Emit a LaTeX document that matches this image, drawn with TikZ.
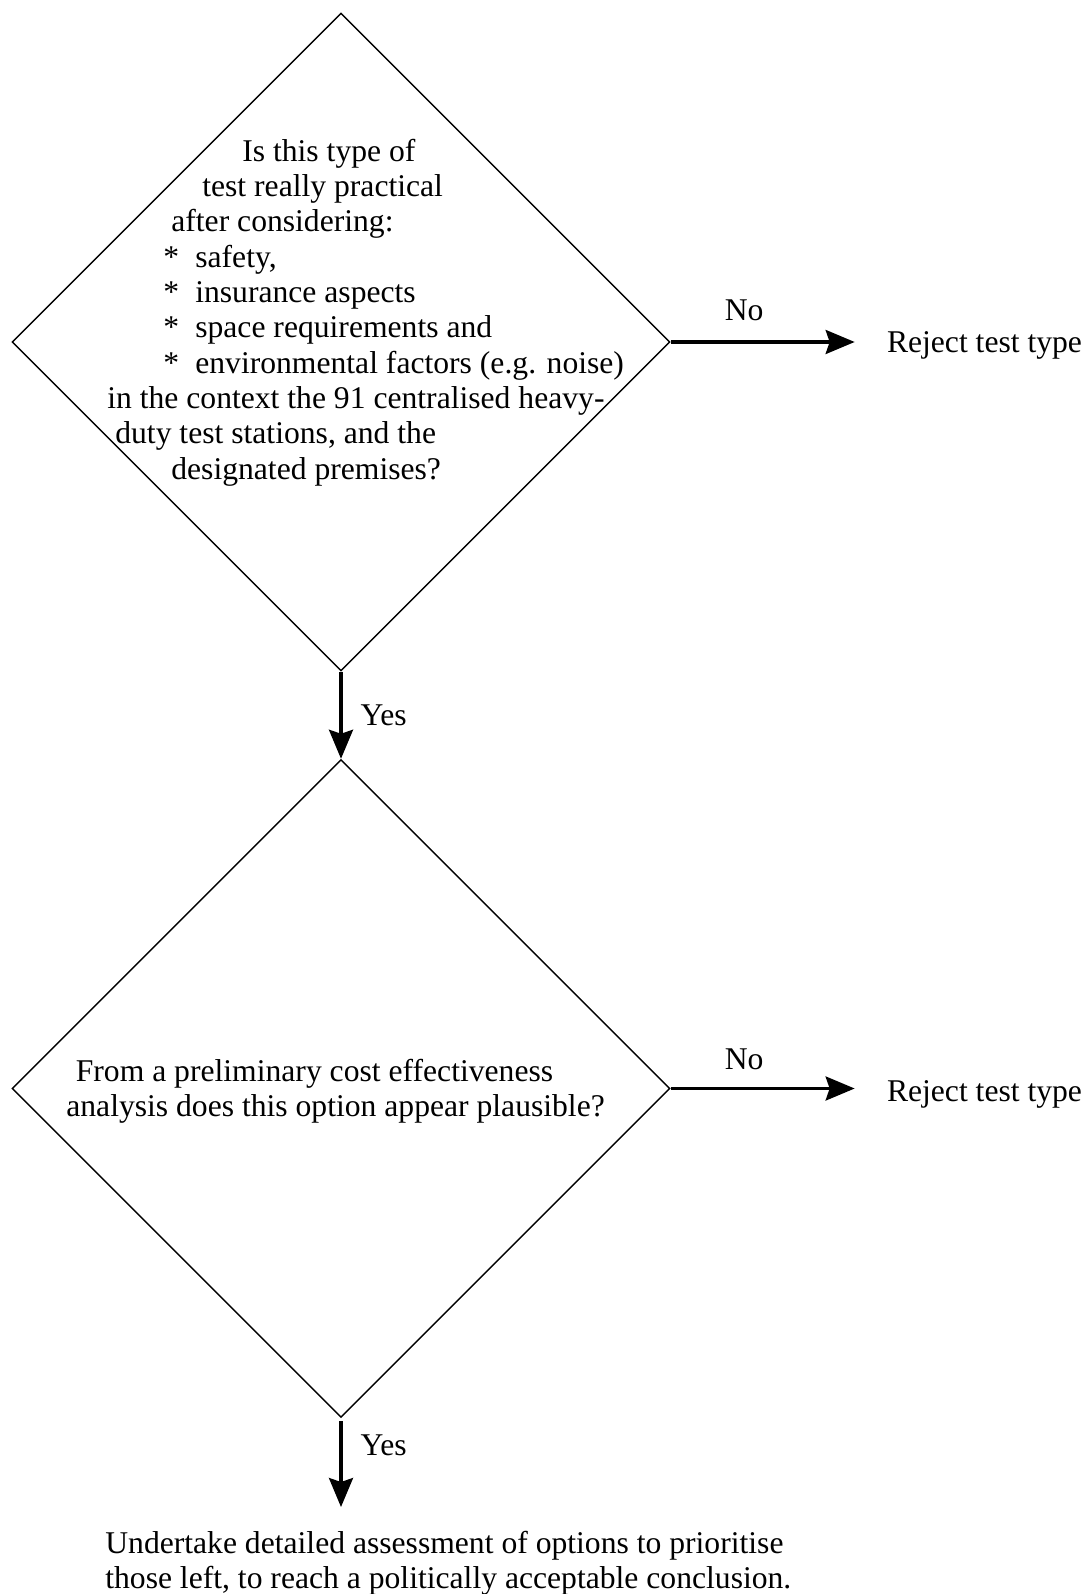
\documentclass[tikz,border=0pt]{standalone}
\usepackage{fontspec}
\setmainfont{Liberation Serif}
\usetikzlibrary{shapes.geometric, arrows.meta}
\tikzstyle{decision} = [diamond, draw, line width=0.8pt, minimum width=13.16cm, minimum height=13.16cm, inner sep=0pt, align=left]
\tikzstyle{txt} = [inner sep=0pt, align=left]
\tikzstyle{line} = [draw, line width=1.8pt, -{Stealth[length=0.58cm, width=0.48cm, inset=0.08cm]}]
\newcommand{\itm}[1]{\hspace*{1.12cm}\makebox[0.64cm][l]{*}#1}

\begin{document}
\begin{tikzpicture}[node distance = 14.93cm, font=\fontsize{18}{20.1}\selectfont]
    \useasboundingbox (-6.82,6.84) rectangle (14.90,-25.04);

    \node[decision](q1){};
    \node[txt, anchor=north west](q1text) at (-4.68,4.07){\hspace*{2.70cm}Is this type of\\
        \hspace*{1.90cm}test really practical\\
        \hspace*{1.28cm}after considering:\\
        \itm{safety,}\\
        \itm{insurance aspects}\\
        \itm{space requirements and}\\
        \itm{environmental factors (e.g. noise)}\\
        in the context the 91 centralised heavy-\\
        \hspace*{0.16cm}duty test stations, and the\\
        \hspace*{1.28cm}designated premises?};
    \node[decision, below of=q1](q2){};
    \node[txt, anchor=north west](q2text) at (-5.50,-14.34){\hspace*{0.19cm}From a preliminary cost effectiveness\\
        analysis does this option appear plausible?};
    \node[txt, right of=q1, node distance=12.87cm, yshift=-0.06cm](rej1){Reject test type};
    \node[txt, right of=q2, node distance=12.87cm, yshift=-0.12cm](rej2){Reject test type};
    \coordinate (yesend) at (0,-23.30);
    \node[txt, anchor=north west](final) at (-4.72,-23.78){Undertake detailed assessment of options to prioritise\\
        those left, to reach a politically acceptable conclusion.};

    \path[line] (q1) -- node[txt, midway, right=0.36cm]{Yes} (q2);
    \path[line, shorten >=0.64cm] (q1.east) -- node[txt, pos=0.34, above=0.40cm]{No} (q1.east -| rej1.west);
    \path[line, shorten >=0.64cm] (q2.east) -- node[txt, pos=0.34, above=0.35cm]{No} (q2.east -| rej2.west);
    \path[line, shorten <=0.06cm] (q2) -- node[txt, pos=0.31, right=0.36cm]{Yes} (yesend);
\end{tikzpicture}
\end{document}
